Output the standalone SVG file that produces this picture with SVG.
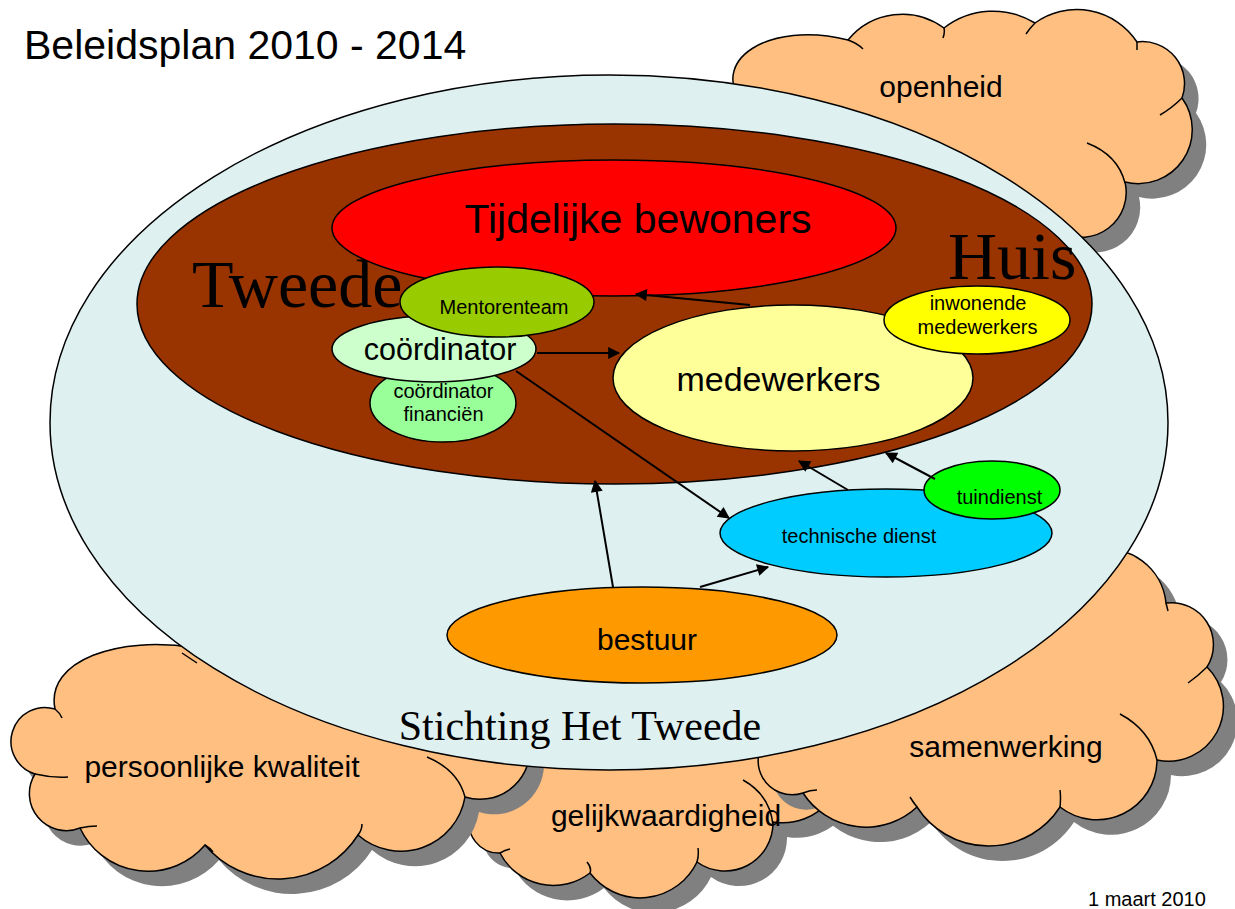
<svg xmlns="http://www.w3.org/2000/svg" xmlns:xlink="http://www.w3.org/1999/xlink" width="1235" height="909" viewBox="0 0 1235 909">
<style>
.sh{fill:#808080;stroke:none}
.cl{fill:#FFBF80;stroke:#000;stroke-width:1.5}
.in{fill:none;stroke:#000;stroke-width:1.5}
.el{stroke:#000;stroke-width:1.5}
.s{font-family:"Liberation Sans",Arial,sans-serif;fill:#000}
.r{font-family:"Liberation Serif","Times New Roman",serif;fill:#000}
.c{text-anchor:middle}
.ar{fill:none;stroke:#000;stroke-width:2;marker-end:url(#ah)}
</style>
<defs>
<marker id="ah" viewBox="0 0 10 10" refX="9" refY="5" markerWidth="15" markerHeight="12" markerUnits="userSpaceOnUse" orient="auto">
<path d="M0,0 L10,5 L0,10 z" fill="#000"/>
</marker>
<path id="p-open" d="M745,108 C705,60 770,20 848,40 A70 70 0 0 1 944,28 A80 80 0 0 1 1035,23 A72 72 0 0 1 1137,42 A42 42 0 0 1 1182,98 A54 54 0 0 1 1125,182 A45 45 0 0 1 1060,232 L900,200 Z"/>
<path id="p-pers" d="M530,750 A50 50 0 0 1 465,797 A65 65 0 0 1 358,835 A95 95 0 0 1 205,845 A75 75 0 0 1 80,828 A37 37 0 0 1 35,774 A34 34 0 0 1 55,709 C45,660 120,635 195,648 L300,640 Z"/>
<path id="p-gel" d="M830,800 A60 60 0 0 1 773,822 A48 48 0 0 1 697,862 A63 63 0 0 1 590,873 A60 60 0 0 1 500,853 A30 30 0 0 1 470,815 L470,790 L560,760 L760,750 Z"/>
<path id="p-sam" d="M1095,550 A60 60 0 0 1 1166,603 A42 42 0 0 1 1207,667 A55 55 0 0 1 1157,760 A60 60 0 0 1 1060,807 A85 85 0 0 1 917,807 A75 75 0 0 1 803,793 A34 34 0 0 1 770,735 L1000,640 Z"/>
</defs>
<rect width="1235" height="909" fill="#fff"/>
<text class="s" x="24" y="59" font-size="41">Beleidsplan 2010 - 2014</text>

<g id="cloud-gelijkwaardigheid">
<use xlink:href="#p-gel" class="sh" transform="translate(14,15)"/>
<use xlink:href="#p-gel" class="cl"/>
<path class="in" d="M500,853 Q505,850 510,849 M590,873 Q592,868 587,862 M697,862 Q699,855 698,848 M743,780 Q770,795 773,825"/>
<text class="s c" x="666" y="826" font-size="30">gelijkwaardigheid</text>
</g>
<g id="cloud-samenwerking">
<use xlink:href="#p-sam" class="sh" transform="translate(14,15)"/>
<use xlink:href="#p-sam" class="cl"/>
<path class="in" d="M1166,603 L1168,611 M1207,667 Q1198,676 1188,683 M1120,714 Q1150,730 1157,760 M1060,807 Q1061,798 1060,790 M917,807 Q913,802 910,797 M803,793 Q810,790 817,790"/>
<text class="s c" x="1006" y="757" font-size="30">samenwerking</text>
</g>
<g id="cloud-persoonlijke">
<use xlink:href="#p-pers" class="sh" transform="translate(14,15)"/>
<use xlink:href="#p-pers" class="cl"/>
<path class="in" d="M55,709 Q60,713 62,718 M35,774 Q52,778 68,777 M80,828 Q89,826 97,826 M205,845 Q210,848 213,852 M358,835 Q362,830 362,824 M427,757 Q458,770 465,797 M182,653 L197,663"/>
<text class="s c" x="222" y="777" font-size="30">persoonlijke kwaliteit</text>
</g>
<g id="cloud-openheid">
<use xlink:href="#p-open" class="sh" transform="translate(14,15)"/>
<use xlink:href="#p-open" class="cl"/>
<path class="in" d="M848,40 Q857,43 863,49 M944,28 Q945,33 943,38 M1035,23 Q1030,28 1026,34 M1137,42 L1137,50 M1182,98 Q1172,108 1160,115 M1087,143 Q1118,155 1125,183"/>
<text class="s c" x="941" y="97" font-size="30">openheid</text>
</g>

<g id="stichting">
<ellipse class="el" cx="609" cy="422.5" rx="559" ry="347.5" fill="#DFF0F0"/>
<text class="r c" x="580" y="740" font-size="42">Stichting Het Tweede</text>
</g>
<g id="tweede-huis">
<ellipse class="el" cx="614.5" cy="304" rx="477.5" ry="180" fill="#993300"/>
<text class="r" x="192" y="307" font-size="68">Tweede</text>
<text class="r" x="948" y="279" font-size="68">Huis</text>
</g>
<g id="tijdelijke-bewoners">
<ellipse class="el" cx="614" cy="228" rx="282" ry="68" fill="#FF0000"/>
<text class="s c" x="638" y="233" font-size="41">Tijdelijke bewoners</text>
</g>
<g id="coordinator-financien">
<ellipse class="el" cx="443" cy="403" rx="73" ry="39" fill="#99FF99"/>
<text class="s c" x="443.5" y="398" font-size="20">coördinator</text>
<text class="s c" x="443.5" y="421" font-size="20">financiën</text>
</g>
<g id="coordinator">
<ellipse class="el" cx="434" cy="349" rx="102" ry="33" fill="#CCFFCC"/>
<text class="s c" x="440" y="360" font-size="30.5">coördinator</text>
</g>
<g id="mentorenteam">
<ellipse class="el" cx="497" cy="302" rx="97" ry="35" fill="#99CC00"/>
<text class="s c" x="504" y="314" font-size="20">Mentorenteam</text>
</g>
<g id="medewerkers">
<ellipse class="el" cx="793" cy="378" rx="180" ry="73" fill="#FFFF99"/>
<text class="s c" x="778.5" y="391" font-size="34">medewerkers</text>
</g>
<g id="inwonende-medewerkers">
<ellipse class="el" cx="977" cy="320" rx="93" ry="34" fill="#FFFF00"/>
<text class="s c" x="978" y="310" font-size="20">inwonende</text>
<text class="s c" x="977.5" y="334" font-size="20">medewerkers</text>
</g>
<g id="technische-dienst">
<ellipse class="el" cx="886" cy="533" rx="166" ry="44" fill="#00CCFF"/>
<text class="s c" x="859" y="543" font-size="20">technische dienst</text>
</g>
<g id="tuindienst">
<ellipse class="el" cx="992" cy="490" rx="68" ry="29" fill="#00FF00"/>
<text class="s c" x="999.5" y="504" font-size="20">tuindienst</text>
</g>
<g id="bestuur">
<ellipse class="el" cx="642" cy="635" rx="195" ry="48" fill="#FF9900"/>
<text class="s c" x="647" y="650" font-size="30">bestuur</text>
</g>

<g id="connectors">
<path class="ar" d="M750,305 L636,294"/>
<path class="ar" d="M537,353 L619,353"/>
<path class="ar" d="M516,371 L729,518"/>
<path class="ar" d="M613,587 L595,481"/>
<path class="ar" d="M700,587 L768,567"/>
<path class="ar" d="M848,490 L799,461"/>
<path class="ar" d="M935,479 L886,453"/>
</g>

<text class="s" x="1088" y="906" font-size="20">1 maart 2010</text>
</svg>
